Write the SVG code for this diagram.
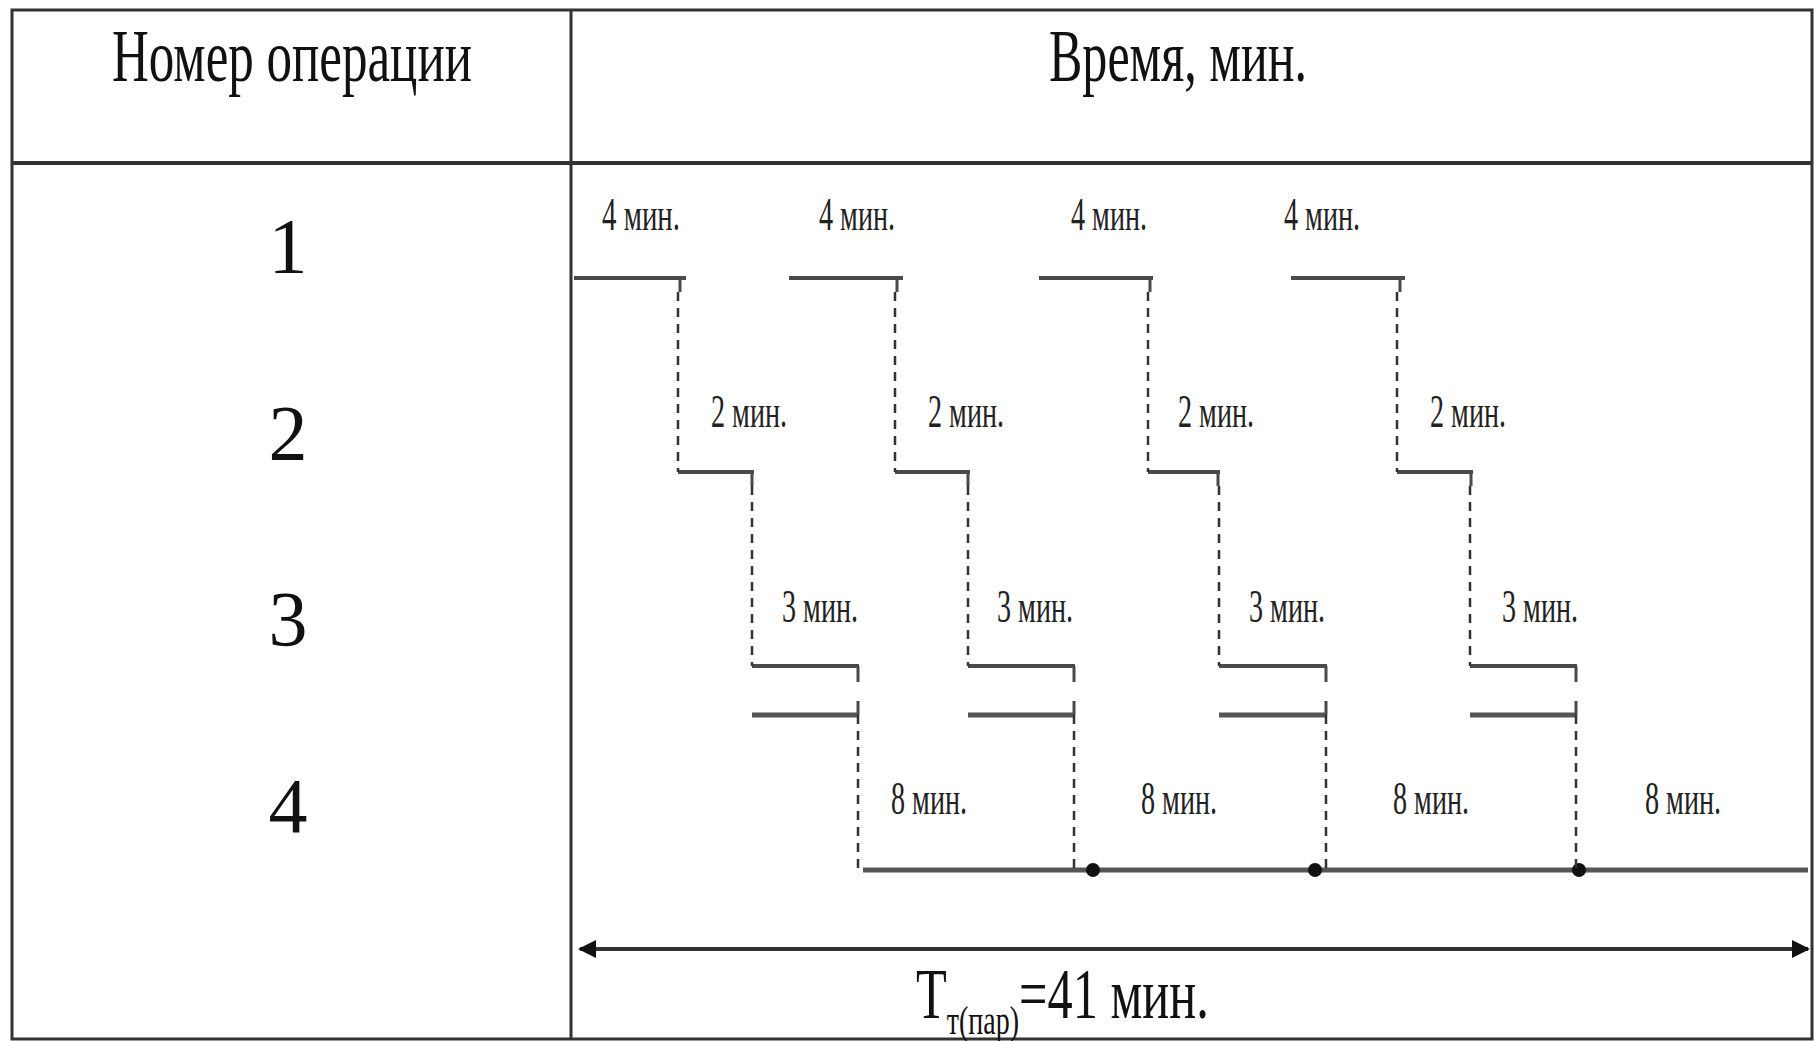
<svg xmlns="http://www.w3.org/2000/svg" width="1814" height="1041" viewBox="0 0 1814 1041">
<defs>
<style>
.frame{fill:none;stroke:#333;stroke-width:3}
.bar{fill:none;stroke:#4a4a4a;stroke-width:4;stroke-linecap:butt}
.bar2{fill:none;stroke:#555;stroke-width:5;stroke-linecap:butt}
.tick{fill:none;stroke:#4a4a4a;stroke-width:3}
.dash{fill:none;stroke:#333;stroke-width:2.5;stroke-dasharray:9,7}
.hdr{font-family:"Liberation Serif","Times New Roman",serif;font-size:74px;fill:#111}
.num{font-family:"Liberation Serif","Times New Roman",serif;font-size:78px;fill:#111;text-anchor:middle}
.lbl{font-family:"Liberation Serif","Times New Roman",serif;font-size:46px;fill:#222}
.big{font-family:"Liberation Serif","Times New Roman",serif;font-size:72px;fill:#111}
.dot{fill:#111}
</style>
<marker id="ah" viewBox="0 0 18 18" refX="16" refY="9" markerWidth="18" markerHeight="18" markerUnits="userSpaceOnUse" orient="auto-start-reverse">
<path d="M0,0 L18,9 L0,18 z" fill="#111"/>
</marker>
</defs>
<rect width="1814" height="1041" fill="#fff"/>
<g id="table">
<rect class="frame" x="12" y="10" width="1800" height="1029"/>
<line class="frame" x1="12" y1="163" x2="1812" y2="163" style="stroke-width:4"/>
<line class="frame" x1="571" y1="10" x2="571" y2="1039"/>
</g>
<g id="headers">
<text class="hdr" x="112" y="81" textLength="360" lengthAdjust="spacingAndGlyphs">Номер операции</text>
<text class="hdr" x="1049" y="81" textLength="258" lengthAdjust="spacingAndGlyphs">Время, мин.</text>
</g>
<g id="row-labels">
<text class="num" x="288" y="272">1</text>
<text class="num" x="288" y="459">2</text>
<text class="num" x="288" y="645">3</text>
<text class="num" x="288" y="832">4</text>
</g>
<g id="op1">
<path class="bar" d="M574,278 H686 M789,278 H903 M1039,278 H1153 M1291,278 H1405"/>
<path class="tick" d="M680,278 V292 M897,278 V292 M1150,278 V292 M1400,278 V292"/>
<text class="lbl" x="602" y="230" textLength="78" lengthAdjust="spacingAndGlyphs">4 мин.</text>
<text class="lbl" x="819" y="230" textLength="76" lengthAdjust="spacingAndGlyphs">4 мин.</text>
<text class="lbl" x="1071" y="230" textLength="76" lengthAdjust="spacingAndGlyphs">4 мин.</text>
<text class="lbl" x="1284" y="230" textLength="76" lengthAdjust="spacingAndGlyphs">4 мин.</text>
</g>
<g id="op2">
<path class="bar" d="M678,472 H754 M895,472 H970 M1148,472 H1220 M1397,472 H1473"/>
<path class="tick" d="M752,472 V486 M968,472 V486 M1218,472 V486 M1471,472 V486"/>
<text class="lbl" x="711" y="427" textLength="76" lengthAdjust="spacingAndGlyphs">2 мин.</text>
<text class="lbl" x="928" y="427" textLength="76" lengthAdjust="spacingAndGlyphs">2 мин.</text>
<text class="lbl" x="1178" y="427" textLength="76" lengthAdjust="spacingAndGlyphs">2 мин.</text>
<text class="lbl" x="1430" y="427" textLength="76" lengthAdjust="spacingAndGlyphs">2 мин.</text>
</g>
<g id="op3">
<path class="bar" d="M752,666 H859 M968,666 H1075 M1219,666 H1327 M1470,666 H1577"/>
<path class="bar2" d="M752,715 H859 M968,715 H1075 M1219,715 H1327 M1470,715 H1577"/>
<path class="tick" d="M858,666 V682 M1074,666 V682 M1326,666 V682 M1576,666 V682 M858,715 V701 M1074,715 V701 M1326,715 V701 M1576,715 V701"/>
<text class="lbl" x="782" y="622" textLength="76" lengthAdjust="spacingAndGlyphs">3 мин.</text>
<text class="lbl" x="997" y="622" textLength="76" lengthAdjust="spacingAndGlyphs">3 мин.</text>
<text class="lbl" x="1249" y="622" textLength="76" lengthAdjust="spacingAndGlyphs">3 мин.</text>
<text class="lbl" x="1502" y="622" textLength="76" lengthAdjust="spacingAndGlyphs">3 мин.</text>
</g>
<g id="op4">
<line class="bar2" x1="863" y1="870" x2="1808" y2="870"/>
<circle class="dot" cx="1093" cy="870" r="7"/>
<circle class="dot" cx="1315" cy="870" r="7"/>
<circle class="dot" cx="1579" cy="870" r="7"/>
<text class="lbl" x="891" y="814" textLength="76" lengthAdjust="spacingAndGlyphs">8 мин.</text>
<text class="lbl" x="1141" y="814" textLength="76" lengthAdjust="spacingAndGlyphs">8 мин.</text>
<text class="lbl" x="1393" y="814" textLength="76" lengthAdjust="spacingAndGlyphs">8 мин.</text>
<text class="lbl" x="1645" y="814" textLength="76" lengthAdjust="spacingAndGlyphs">8 мин.</text>
</g>
<g id="connectors">
<path class="dash" d="M678,292 V472 M895,292 V472 M1148,292 V472 M1397,292 V472"/>
<path class="dash" d="M752,486 V666 M968,486 V666 M1219,486 V666 M1470,486 V666"/>
<path class="dash" d="M858,715 V868 M1074,715 V868 M1326,715 V868 M1576,715 V868"/>
<line x1="580" y1="949" x2="1808" y2="949" stroke="#333" stroke-width="4" marker-start="url(#ah)" marker-end="url(#ah)"/>
</g>
<g id="total">
<text class="big" transform="translate(916,1018) scale(0.7,1)" x="0" y="0">Т<tspan font-size="40" dy="16">т(пар)</tspan><tspan dy="-16">=41 мин.</tspan></text>
</g>
</svg>
